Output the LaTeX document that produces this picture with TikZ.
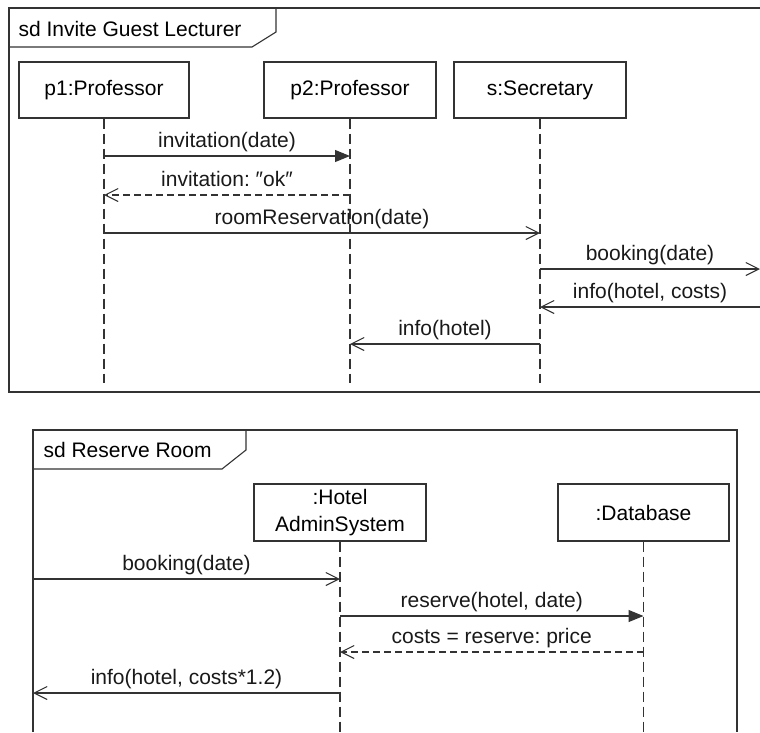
\documentclass[tikz,border=0pt]{standalone}
\usepackage{fontspec}
\setmainfont{Liberation Sans}
\usetikzlibrary{arrows.meta,positioning}
\frenchspacing

\begin{document}
\begin{tikzpicture}[x=1pt,y=-1pt,line width=1.1pt,
  font=\fontsize{21}{27}\selectfont,
  lifebox/.style={draw=black!80,minimum height=56pt,align=center,inner sep=0pt},
  lifeline/.style={draw=black!80,dash pattern=on 10pt off 5pt},
  call/.style={draw=black!80,-{Triangle[length=15pt,width=12pt]}},
  async/.style={draw=black!80,-{Straight Barb[length=13pt,width=13pt]}},
  reply/.style={async,dash pattern=on 7pt off 4pt},
  lbl/.style={midway,anchor=base,yshift=8.5pt,inner sep=0pt,text=black!90}]
  \useasboundingbox (0,0) rectangle (760,732);

  % sd Invite Guest Lecturer
  \draw[black!80] (760,8) -- (9,8) -- (9,392) -- (760,392);
  \draw[black!80] (9,47) -- (252,47) -- (276,32) -- (276,8);
  \node[anchor=west,inner sep=0pt] (title1) at (18,29) {sd Invite Guest Lecturer};

  \node[lifebox,minimum width=170pt] (p1) at (104,90) {p1:Professor};
  \node[lifebox,minimum width=172pt] (p2) at (350,90) {p2:Professor};
  \node[lifebox,minimum width=172pt] (s) at (540,90) {s:Secretary};
  \foreach \n in {p1,p2,s}
    \draw[lifeline] (\n) -- (\n |- 0,383);

  \coordinate (gate1) at (760,269);
  \coordinate (gate2) at (760,307);
  \draw[call] (p1 |- 0,156) -- node[lbl] {invitation(date)} (p2 |- 0,156);
  \draw[reply] (p2 |- 0,195) -- node[lbl] {invitation: \char"2033ok\char"2033} (p1 |- 0,195);
  \draw[async] (p1 |- 0,233) -- node[lbl] {roomReservation(date)} (s |- 0,233);
  \draw[async] (s |- gate1) -- node[lbl] {booking(date)} (gate1);
  \draw[async] (gate2) -- node[lbl] {info(hotel, costs)} (s |- gate2);
  \draw[async] (s |- 0,344) -- node[lbl] {info(hotel)} (p2 |- 0,344);

  % sd Reserve Room
  \draw[black!80] (33,732) -- (33,430) -- (737,430) -- (737,732);
  \draw[black!80] (33,469) -- (222,469) -- (246,450) -- (246,430);
  \node[anchor=west,inner sep=0pt] (title2) at (43,450) {sd Reserve Room};

  \node[lifebox,minimum width=172pt,minimum height=57pt] (has) at (340,512.5) {:Hotel\\AdminSystem};
  \node[lifebox,minimum width=171pt,minimum height=57pt] (db) at (643.5,512.5) {:Database};
  \foreach \n in {has,db}
    \draw[lifeline] (\n) -- (\n |- 0,732);

  \coordinate (gate3) at (33,579);
  \coordinate (gate4) at (33,693);
  \draw[async] (gate3) -- node[lbl] {booking(date)} (has |- gate3);
  \draw[call] (has |- 0,616) -- node[lbl] {reserve(hotel, date)} (db |- 0,616);
  \draw[reply] (db |- 0,652) -- node[lbl] {costs = reserve: price} (has |- 0,652);
  \draw[async] (has |- gate4) -- node[lbl] {info(hotel, costs*1.2)} (gate4);
\end{tikzpicture}
\end{document}
